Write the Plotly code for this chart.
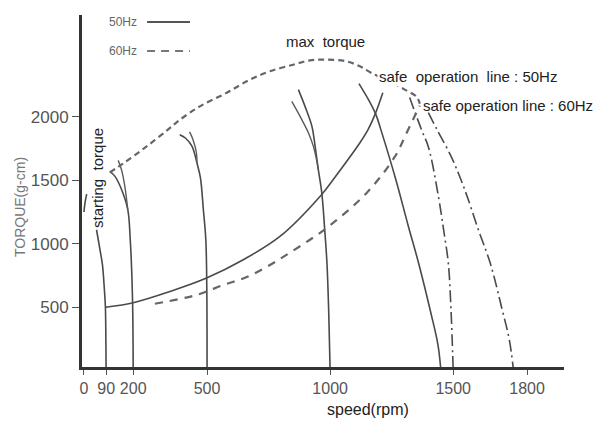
import plotly.graph_objects as go

# ---------------- data (speed in rpm, torque in g-cm) ----------------
x_tick_vals = [0, 90, 200, 500, 1000, 1500, 1800]
y_tick_vals = [500, 1000, 1500, 2000]

# starting torque mark near 0 rpm
start_rpm = [0, 4, 11]
start_torque = [1250, 1320, 1390]

# speed-torque curve at 90 rpm
c90_rpm = [51, 65, 75, 83, 87, 89, 90]
c90_torque = [1110, 953, 835, 638, 504, 244, 0]

# pair of curves at 200 rpm
c200a_rpm = [105, 126, 153, 178, 188, 197, 200]
c200a_torque = [1569, 1530, 1425, 1268, 1031, 583, 0]
c200b_rpm = [139, 153, 166, 178]
c200b_torque = [1656, 1579, 1451, 1268]

# pair of curves at 500 rpm
c500a_rpm = [389, 412, 439, 459, 473, 485, 495, 499, 500]
c500a_torque = [1858, 1832, 1766, 1635, 1520, 1268, 1031, 638, 0]
c500b_rpm = [429, 443, 457, 459]
c500b_torque = [1880, 1819, 1714, 1635]

# pair of curves at 1000 rpm
c1000a_rpm = [871, 898, 926, 939, 952, 966, 978, 987, 994, 1000]
c1000a_torque = [2213, 2081, 1924, 1766, 1583, 1402, 1110, 850, 480, 0]
c1000b_rpm = [844, 878, 912, 932, 943, 952]
c1000b_torque = [2120, 2002, 1872, 1766, 1677, 1583]

# 50Hz curve ending at 1450 rpm
c1450_rpm = [1117, 1158, 1186, 1206, 1267, 1316, 1361, 1409, 1438, 1450]
c1450_torque = [2260, 2126, 2016, 1898, 1504, 1150, 835, 457, 205, 0]

# dash-dot curves ending at 1500 and ~1745 rpm
c1500_rpm = [1323, 1371, 1400, 1440, 1461, 1480, 1491, 1500]
c1500_torque = [2150, 1898, 1756, 1370, 1110, 848, 480, 0]
c1745_rpm = [1399, 1434, 1488, 1525, 1557, 1602, 1650, 1699, 1728, 1745]
c1745_torque = [2031, 1898, 1701, 1535, 1370, 1110, 850, 480, 244, 0]

# max torque line
max_rpm = [105, 158, 248, 341, 390, 471, 579, 674, 755, 850, 918, 985,
           1067, 1121, 1168, 1242, 1303, 1351, 1364]
max_torque = [1561, 1630, 1756, 1898, 1976, 2081, 2187, 2291, 2357, 2409,
              2443, 2449, 2435, 2396, 2344, 2276, 2213, 2157, 2102]

# safe operation line : 50Hz
safe50_rpm = [88, 204, 349, 498, 647, 796, 965, 1012, 1121, 1154, 1182, 1214]
safe50_torque = [500, 538, 624, 730, 874, 1057, 1386, 1504, 1795, 1898, 2016, 2189]

# safe operation line : 60Hz
safe60_rpm = [288, 459, 568, 654, 743, 836, 987, 1149, 1263, 1311, 1364]
safe60_torque = [528, 598, 677, 732, 819, 929, 1126, 1402, 1685, 1874, 2087]

# ---------------- figure ----------------
SOLID = dict(color="#4a4a4a", width=1.6)
fig = go.Figure()


def add(xs, ys, line):
    fig.add_trace(go.Scatter(x=xs, y=ys, mode="lines", line=line,
                             line_shape="spline", hoverinfo="skip",
                             showlegend=False))


add(start_rpm, start_torque, SOLID)
add(c90_rpm, c90_torque, SOLID)
add(c200a_rpm, c200a_torque, SOLID)
add(c200b_rpm, c200b_torque, dict(color="#5a5a5a", width=1.4))
add(c500a_rpm, c500a_torque, SOLID)
add(c500b_rpm, c500b_torque, dict(color="#5a5a5a", width=1.4))
add(c1000a_rpm, c1000a_torque, SOLID)
add(c1000b_rpm, c1000b_torque, dict(color="#5a5a5a", width=1.4))
add(c1450_rpm, c1450_torque, SOLID)
add(c1500_rpm, c1500_torque, dict(color="#4a4a4a", width=1.6, dash="12px,4px,2px,4px"))
add(c1745_rpm, c1745_torque, dict(color="#4a4a4a", width=1.6, dash="12px,4px,2px,4px"))
add(max_rpm, max_torque, dict(color="#666666", width=2.2, dash="6px,4px"))
add(safe50_rpm, safe50_torque, SOLID)
add(safe60_rpm, safe60_torque, dict(color="#666666", width=2.2, dash="8px,7px"))

FONT = "Liberation Sans, Arial, sans-serif"
NARROW = "Liberation Sans Narrow, Arial Narrow, Liberation Sans, sans-serif"

# the page body adds an 8px offset, so the figure is sized to fit the window
fig.update_layout(
    width=599, height=414,
    margin=dict(l=74, r=43, t=7, b=55),
    paper_bgcolor="white", plot_bgcolor="white",
    font=dict(family=FONT, color="#555555"),
    xaxis=dict(range=[-8, 1950], showgrid=False, zeroline=False,
               showline=True, linewidth=3, linecolor="#333333",
               ticks="outside", ticklen=5, tickwidth=1.3, tickcolor="#555555",
               tickvals=x_tick_vals, ticktext=[str(v) for v in x_tick_vals],
               tickfont=dict(size=16, color="#555555", family=FONT)),
    yaxis=dict(range=[30, 2800], showgrid=False, zeroline=False,
               showline=True, linewidth=3, linecolor="#333333",
               ticks="outside", ticklen=7, tickwidth=1.3, tickcolor="#555555",
               tickvals=y_tick_vals, ticktext=[str(v) for v in y_tick_vals],
               tickfont=dict(size=17, color="#555555", family=FONT)),
)


def note(text, x, y, size, color, family=FONT, angle=0, xanchor="center", bg=None):
    d = dict(text=text, x=x, y=y, xref="paper", yref="paper", showarrow=False,
             xanchor=xanchor, yanchor="middle", textangle=angle,
             font=dict(size=size, color=color, family=family))
    if bg:
        d["bgcolor"] = bg
    return d


annotations = [
    note("speed(rpm)", 0.593, -0.122, 16, "#222222"),
    note("TORQUE(g-cm)", -0.1286, 0.4545, 14, "#777777", angle=-90),
    note("starting  torque", 0.0332, 0.537, 15, "#222222", angle=-90),
    note("max  torque", 0.506, 0.926, 15, "#222222"),
    note("safe  operation  line : 50Hz", 0.612, 0.824, 15, "#222222",
         xanchor="left", bg="white"),
    note("safe operation line : 60Hz", 0.703, 0.744, 15, "#222222",
         xanchor="left"),
    note("50Hz", 0.086, 0.980, 12, "#666666", family=NARROW),
    note("60Hz", 0.086, 0.898, 12, "#666666", family=NARROW),
]
fig.update_layout(annotations=annotations)

fig.add_shape(type="line", xref="paper", yref="paper", x0=0.135, x1=0.224,
              y0=0.980, y1=0.980, line=dict(color="#555555", width=2))
fig.add_shape(type="line", xref="paper", yref="paper", x0=0.135, x1=0.224,
              y0=0.898, y1=0.898, line=dict(color="#777777", width=2, dash="8px,6px"))

fig.write_html("out.html")
